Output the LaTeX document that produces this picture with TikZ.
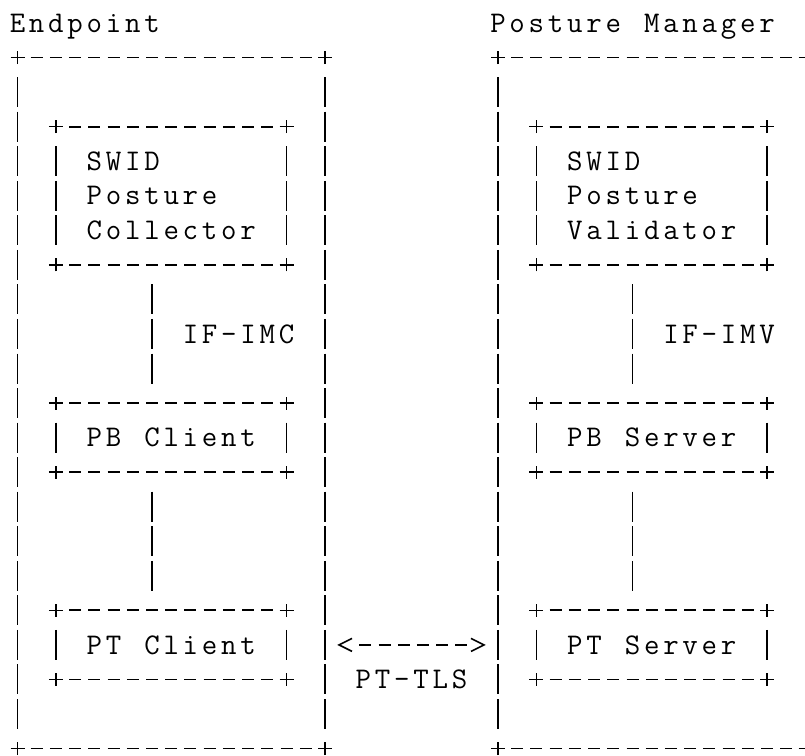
\documentclass[tikz,border=0pt]{standalone}
\usepackage{fontspec}
\usetikzlibrary{arrows.meta,positioning}
\makeatletter
\newcommand{\mono}[1]{\@tfor\monoch:=#1\do{\makebox[19.22pt]{\monoch}}}
\makeatother
\newcommand{\asciifont}{\fontsize{30pt}{34.55pt}\selectfont\ttfamily}
\tikzset{
  hdash/.style={line width=1.8pt, dash pattern=on 12pt off 7.22pt, shorten <=13.22pt, shorten >=13.22pt},
  vdash/.style={line width=1.8pt, dash pattern=on 30pt off 4.55pt, shorten <=19.55pt, shorten >=19.55pt},
  crossmark/.style={line width=1.6pt},
  outerbox/.style={rectangle, inner sep=0pt, outer sep=0pt, minimum width=16*19.22pt, minimum height=20*34.55pt},
  innerbox/.style={rectangle, inner sep=0pt, outer sep=0pt, font=\asciifont, align=left, minimum width=12*19.22pt, minimum height=2*34.55pt},
  lbl/.style={inner sep=0pt, outer sep=0pt, font=\asciifont, text height=25pt, text depth=6.7pt},
  ptarrow/.style={line width=1.6pt, >={Straight Barb[length=13pt,width=13pt]}, <->, shorten <=12.22pt, shorten >=12.22pt,
    dash pattern=on 0pt off 19.5pt on 12pt off 7.22pt on 12pt off 7.22pt on 12pt off 7.22pt on 12pt off 7.22pt on 12pt off 7.22pt on 12pt off 60pt}
}
\begin{document}
\begin{tikzpicture}[x=19.22pt,y=-34.55pt]
\useasboundingbox (-0.9105,-0.6657) rectangle (40.973,21.187);
\node[outerbox] (endpoint) at (8,11) {};
\node[outerbox] (manager) at (33,11) {};
\node[innerbox, minimum height=4*34.55pt] (collector) at (8,5) {\mono{SWID}\\\mono{Posture}\\\mono{Collector}};
\node[innerbox, minimum height=4*34.55pt] (validator) at (33,5) {\mono{SWID}\\\mono{Posture}\\\mono{Validator}};
\node[innerbox] (pbclient) at (8,12) {\mono{PB~Client}};
\node[innerbox] (pbserver) at (33,12) {\mono{PB~Server}};
\node[innerbox] (ptclient) at (8,18) {\mono{PT~Client}};
\node[innerbox] (ptserver) at (33,18) {\mono{PT~Server}};
\node[lbl, anchor=west] (eptitle) at ([xshift=-9.61pt,yshift=34.55pt]endpoint.north west) {\mono{Endpoint}};
\node[lbl, anchor=west] (pmtitle) at ([xshift=-9.61pt,yshift=34.55pt]manager.north west) {\mono{Posture~Manager}};
\foreach \b in {endpoint,manager,collector,validator,pbclient,pbserver,ptclient,ptserver}{
  \draw[hdash] (\b.north west) -- (\b.north east);
  \draw[hdash] (\b.south west) -- (\b.south east);
  \draw[vdash] (\b.north west) -- (\b.south west);
  \draw[vdash] (\b.north east) -- (\b.south east);
  \foreach \c in {north west,north east,south west,south east}
    \draw[crossmark] (\b.\c) +(-7pt,0) -- +(7pt,0) +(0,-6.5pt) -- +(0,6.5pt);
}
\draw[vdash] ([xshift=-19.22pt]collector.south) -- coordinate[midway] (imc) ([xshift=-19.22pt]pbclient.north);
\node[lbl, right=28.83pt of imc] (ifimc) {\mono{IF-IMC}};
\draw[vdash] ([xshift=-19.22pt]validator.south) -- coordinate[midway] (imv) ([xshift=-19.22pt]pbserver.north);
\node[lbl, right=28.83pt of imv] (ifimv) {\mono{IF-IMV}};
\draw[vdash] ([xshift=-19.22pt]pbclient.south) -- ([xshift=-19.22pt]ptclient.north);
\draw[vdash] ([xshift=-19.22pt]pbserver.south) -- ([xshift=-19.22pt]ptserver.north);
\draw[ptarrow] (endpoint.east |- ptclient.center) -- coordinate[midway] (tls) (manager.west |- ptserver.center);
\node[lbl, below=18.7pt of tls] (pttls) {\mono{PT-TLS}};
\end{tikzpicture}
\end{document}
